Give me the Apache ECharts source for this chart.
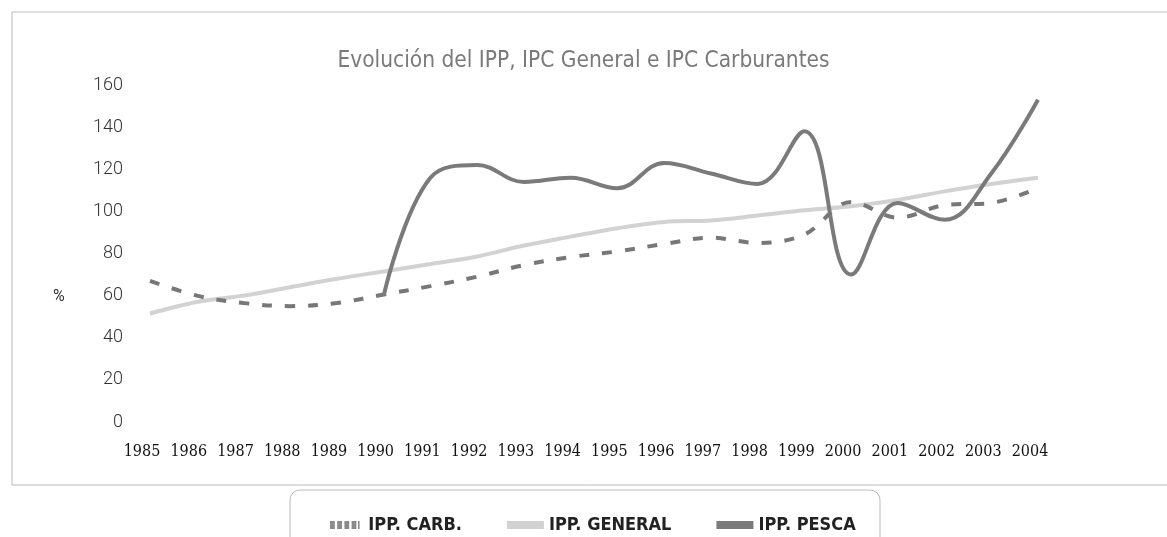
<!DOCTYPE html>
<html>
<head>
<meta charset="utf-8">
<title>Evolución del IPP</title>
<script src="https://cdn.jsdelivr.net/npm/echarts@6/dist/echarts.min.js"></script>
<style>
    html, body { margin: 0; padding: 0; background: #fff; }
    #chart { width: 1167px; height: 537px; }
</style>
</head>
<body>
<div id="chart"></div>
<script>
// datos
var years = ['1985','1986','1987','1988','1989','1990','1991','1992','1993','1994',
             '1995','1996','1997','1998','1999','2000','2001','2002','2003','2004'];
var ippCarb = [67, 60, 56.5, 55, 56.5, 60.5, 64.5, 69, 74.5, 78.3,
               81, 84.5, 87.5, 85, 89, 104.5, 97, 103, 104, 111];
var ippGeneral = [51.5, 57, 60, 64, 68, 71.5, 75, 78.6, 83.8, 88,
                  92, 95, 95.7, 98, 100.5, 102.4, 105.4, 109.5, 113, 116];
var ippPesca = [null, null, null, null, null, 60, 116, 122, 114, 116,
                111, 123, 118, 113, 138, 70, 104, 96, 118, 153];
var yTicks = [0, 20, 40, 60, 80, 100, 120, 140, 160];

var narrow = '"Liberation Sans Narrow", "DejaVu Sans Condensed", "Liberation Sans", sans-serif';

var chart = echarts.init(document.getElementById('chart'));
var option = {
    backgroundColor: '#fff',
    animation: false,
    title: {
        text: 'Evolución del IPP, IPC General e IPC Carburantes',
        left: 'center',
        top: 45,
        textStyle: {
            color: '#7a7a7a',
            fontSize: 22.5,
            fontWeight: 'normal',
            fontFamily: narrow
        }
    },
    legend: {
        left: 325,
        top: 511,
        itemWidth: 37,
        itemHeight: 8,
        itemGap: 45,
        textStyle: {
            color: '#222',
            fontSize: 18,
            fontWeight: 'bold',
            fontFamily: narrow
        },
        data: [
            { name: 'IPP. CARB.', icon: 'path://M0,0h6v10h-6z M9,0h6v10h-6z M18,0h6v10h-6z M27,0h6v10h-6z M35,0h2v10h-2z',
              itemStyle: { color: '#8a8a8a' } },
            { name: 'IPP. GENERAL', icon: 'rect', itemStyle: { color: '#d2d2d2' } },
            { name: 'IPP. PESCA', icon: 'rect', itemStyle: { color: '#7a7a7a' } }
        ]
    },
    grid: {
        left: 150,
        right: 129,
        top: 85,
        bottom: 115
    },
    graphic: [
        // marco del grafico
        {
            type: 'polyline', silent: true, z: -1,
            shape: { points: [[1167, 12], [12, 12], [12, 485], [1167, 485]] },
            style: { stroke: '#bbb', lineWidth: 1, fill: null }
        },
        // caja de la leyenda
        {
            type: 'rect', silent: true, z: 0,
            shape: { x: 290, y: 490, width: 590, height: 60, r: 10 },
            style: { fill: '#fff', stroke: '#bbb', lineWidth: 1 }
        },
        {
            type: 'text', silent: true,
            left: 53, top: 289,
            style: { text: '%', fontSize: 16, fill: '#333', fontFamily: 'Roboto, sans-serif' }
        }
    ],
    xAxis: {
        type: 'category',
        boundaryGap: false,
        data: years,
        axisLine: { show: false },
        axisTick: { show: false },
        axisLabel: {
            interval: 0,
            margin: 22,
            padding: [0, 16, 0, 0],
            color: '#111',
            fontSize: 16,
            fontFamily: '"DejaVu Serif Condensed", "Liberation Serif", serif'
        }
    },
    yAxis: {
        type: 'value',
        min: yTicks[0],
        max: yTicks[yTicks.length - 1],
        interval: 20,
        axisLine: { show: false },
        axisTick: { show: false },
        splitLine: { show: false },
        axisLabel: {
            margin: 27,
            color: '#333',
            fontSize: 18,
            fontWeight: 300,
            fontFamily: 'Roboto, sans-serif'
        }
    },
    series: [
        {
            name: 'IPP. CARB.',
            type: 'line',
            smooth: 0.35,
            symbol: 'none',
            z: 2,
            color: '#777',
            lineStyle: { width: 4, type: [10, 13], color: '#777' },
            data: ippCarb
        },
        {
            name: 'IPP. GENERAL',
            type: 'line',
            smooth: 0.35,
            symbol: 'none',
            z: 1,
            color: '#d2d2d2',
            lineStyle: { width: 4, color: '#d2d2d2' },
            data: ippGeneral
        },
        {
            name: 'IPP. PESCA',
            type: 'line',
            smooth: 0.4,
            symbol: 'none',
            z: 3,
            color: '#7a7a7a',
            lineStyle: { width: 4, color: '#7a7a7a' },
            data: ippPesca
        }
    ]
};
chart.setOption(option, true);
</script>
</body>
</html>
